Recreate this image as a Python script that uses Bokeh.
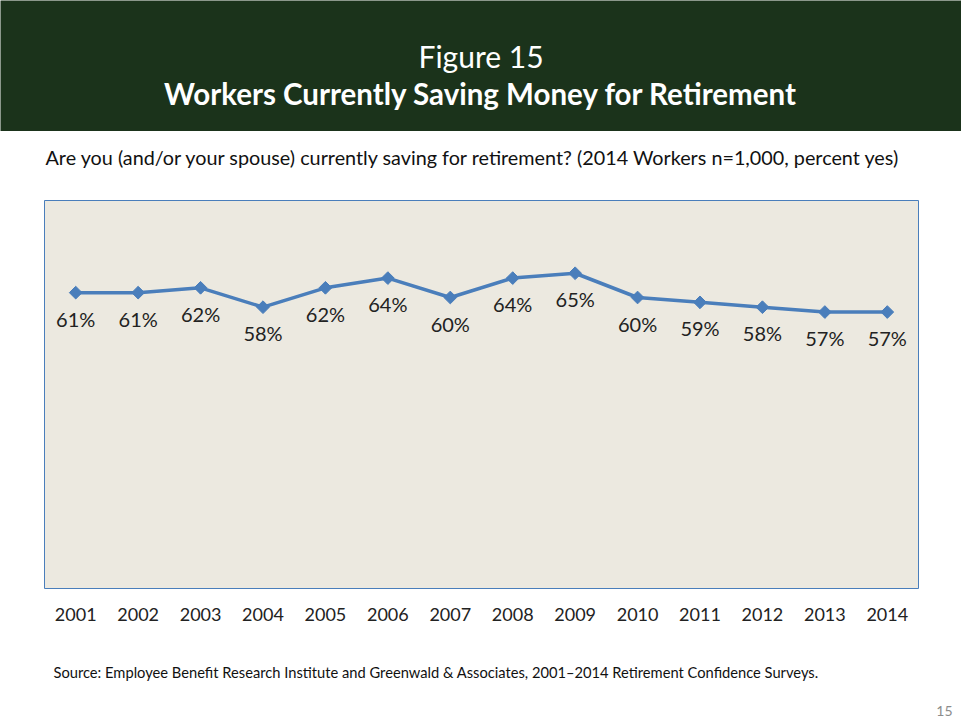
from bokeh.plotting import figure
from bokeh.models import Range1d, FactorRange
from bokeh.layouts import column, row
from bokeh.core.properties import value
from bokeh.embed import file_html
from bokeh.resources import INLINE
import numpy as np

# ---- data ----
years = ["2001", "2002", "2003", "2004", "2005", "2006", "2007",
         "2008", "2009", "2010", "2011", "2012", "2013", "2014"]
pct_yes = [61, 61, 62, 58, 62, 64, 60, 64, 65, 60, 59, 58, 57, 57]
pct_labels = [f"{v}%" for v in pct_yes]

title_line1 = "Figure 15"
title_line2 = "Workers Currently Saving Money for Retirement"
subtitle = "Are you (and/or your spouse) currently saving for retirement?  (2014 Workers n=1,000, percent yes)"
source = "Source:  Employee Benefit Research Institute and Greenwald & Associates, 2001\u20132014 Retirement Confidence Surveys."
page_no = "15"

W = 961
L, R = 44, 43          # frame borders of the chart
FONT = value("Lato")
GREEN = "#1b331b"
BLUE = "#4a7ebb"
TXT = "#222222"


def text_fig(h, bg="white", w=W, left=L, right=R):
    f = figure(width=w, height=h, x_range=Range1d(left, w - right), y_range=Range1d(h, 0),
               x_axis_type=None, y_axis_type=None, toolbar_location=None,
               output_backend="svg", min_border_left=left, min_border_right=right,
               min_border_top=0, min_border_bottom=0, outline_line_color=None,
               background_fill_color=bg, border_fill_color=bg)
    f.grid.visible = False
    return f


# ---- header (full-width frame, wrapped in a row so it is not frame-aligned) ----
h1 = text_fig(131, GREEN, left=0, right=0)
h1.text(x=[W / 2], y=[55], text=[title_line1], text_font=FONT, text_font_size="30px",
        text_color="white", text_align="center", text_baseline="middle")
h1.text(x=[W / 2], y=[93], text=[title_line2], text_font=FONT, text_font_size="29.5px",
        text_font_style="bold", text_color="white", text_align="center", text_baseline="middle")

h1b = text_fig(2, "#3a3a3a", left=0, right=0)

# ---- subtitle ----
h2 = text_fig(57)
h2.text(x=[45], y=[23], text=[subtitle], text_font=FONT, text_font_size="19.8px",
        text_color="#111111", text_align="left", text_baseline="middle")

# ---- chart ----
p = figure(width=W, height=450, x_range=FactorRange(*years), y_range=Range1d(0, 80),
           toolbar_location=None, output_backend="svg", y_axis_location=None,
           min_border_left=L, min_border_right=R, min_border_top=10, min_border_bottom=52,
           background_fill_color="#ece9e0", border_fill_color="white",
           outline_line_color=BLUE, outline_line_width=1)
p.grid.visible = False
p.xaxis.axis_line_color = None
p.xaxis.major_tick_line_color = None
p.xaxis.minor_tick_line_color = None
p.xaxis.major_tick_out = 0
p.xaxis.major_tick_in = 0
p.xaxis.major_label_standoff = 19
p.xaxis.major_label_text_font = "Lato"
p.xaxis.major_label_text_font_size = "18px"
p.xaxis.major_label_text_color = TXT

p.line(x=years, y=pct_yes, line_color=BLUE, line_width=3.5)
p.scatter(x=years, y=pct_yes, marker="square", angle=np.pi / 4, size=9,
          fill_color=BLUE, line_color=BLUE)
p.text(x=years, y=pct_yes, text=pct_labels, text_font=FONT, text_font_size="20px",
       text_color=TXT, text_align="center", text_baseline="middle", y_offset=26)

# ---- source + page number ----
h4 = text_fig(78, w=W - R, left=L, right=0)
h4.text(x=[53], y=[31], text=[source], text_font=FONT, text_font_size="14.7px",
        text_color="#111111", text_align="left", text_baseline="middle")
pn = text_fig(78, w=R, left=0, right=0)
pn.text(x=[R - 9], y=[70], text=[page_no], text_font=FONT, text_font_size="14px",
        text_color="#8c8c8c", text_align="right", text_baseline="middle")

layout = column(row(h1), row(h1b), h2, p, row(h4, pn, spacing=0), spacing=0)
open("out.html", "w").write(file_html(layout, INLINE))
